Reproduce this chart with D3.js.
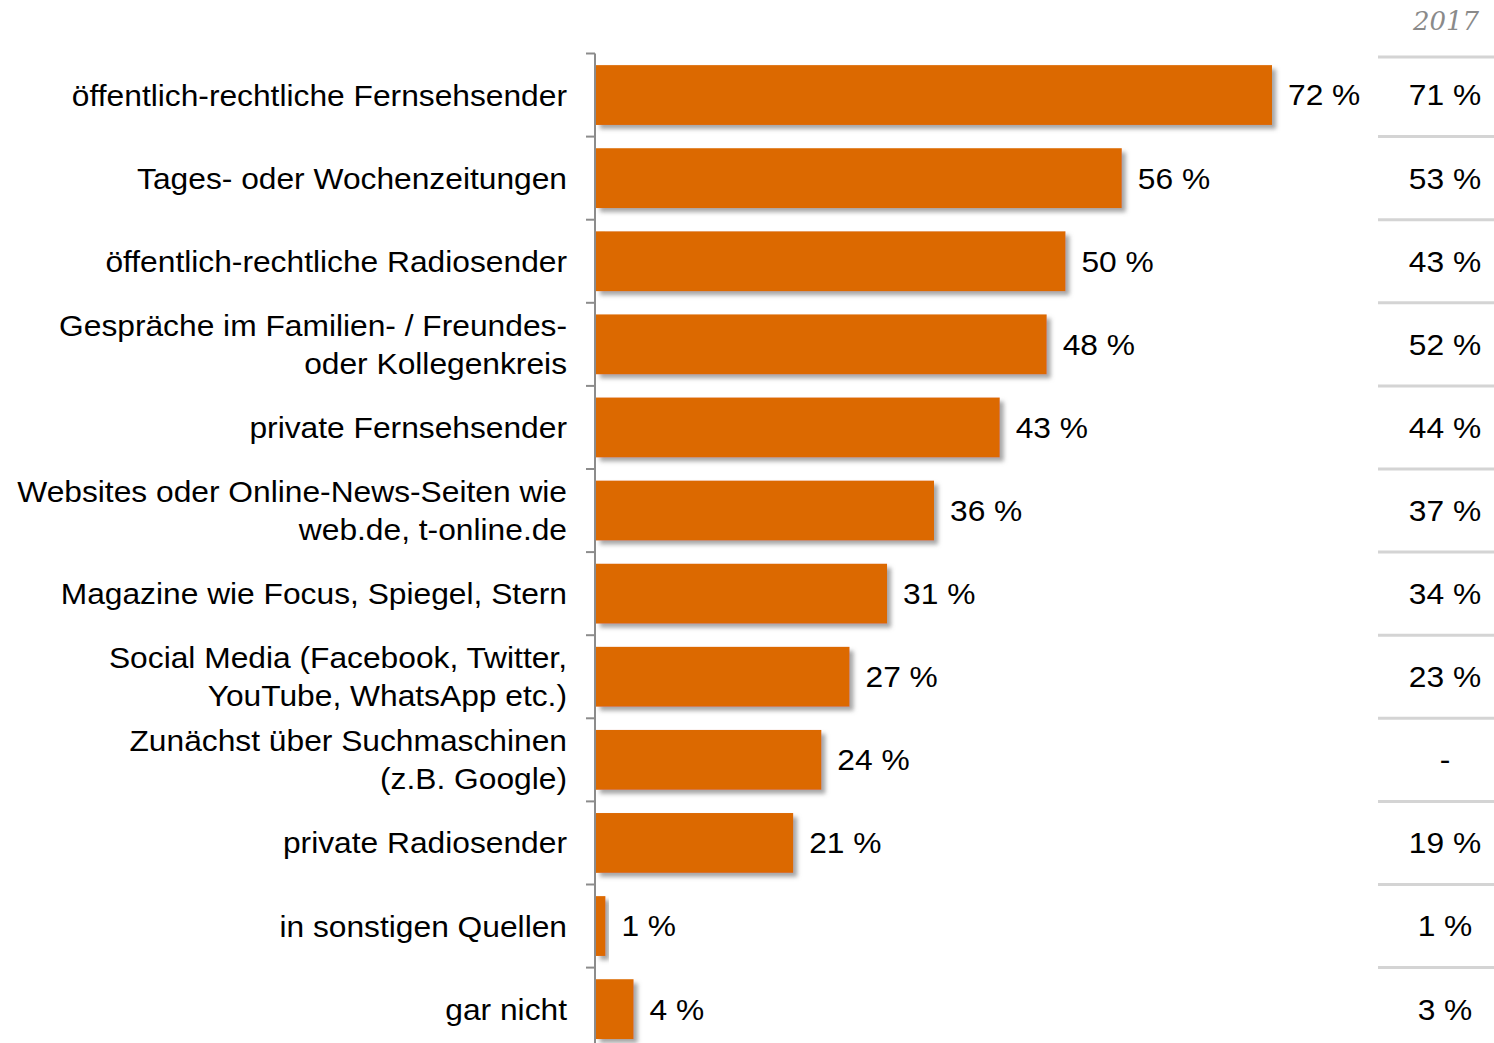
<!DOCTYPE html>
<html>
<head>
<meta charset="utf-8">
<script src="https://cdn.jsdelivr.net/npm/d3@7"></script>
<style>
  body { margin: 0; background: #fff; }
  svg { display: block; font-family: "Liberation Sans", Arial, sans-serif; }
</style>
</head>
<body>
<script>
(function (d3) {
    'use strict';

    var categories = [
        ["öffentlich-rechtliche Fernsehsender"],
        ["Tages- oder Wochenzeitungen"],
        ["öffentlich-rechtliche Radiosender"],
        ["Gespräche im Familien- / Freundes-", "oder Kollegenkreis"],
        ["private Fernsehsender"],
        ["Websites oder Online-News-Seiten wie", "web.de, t-online.de"],
        ["Magazine wie Focus, Spiegel, Stern"],
        ["Social Media (Facebook, Twitter,", "YouTube, WhatsApp etc.)"],
        ["Zunächst über Suchmaschinen", "(z.B. Google)"],
        ["private Radiosender"],
        ["in sonstigen Quellen"],
        ["gar nicht"]
    ];
    var values = [72, 56, 50, 48, 43, 36, 31, 27, 24, 21, 1, 4];
    var values2017 = ["71 %", "53 %", "43 %", "52 %", "44 %", "37 %", "34 %", "23 %", "-", "19 %", "1 %", "3 %"];
    var compareYear = "2017";

    var width = 1494, height = 1043;
    var x0 = 596, bandStep = 83.1, top = 53.5;
    var sx = 1.095; // text in the original is a bit wider than Liberation Sans

    var svg = d3.select("body").append("svg")
        .attr("width", width)
        .attr("height", height);

    var defs = svg.append("defs");
    var f = defs.append("filter").attr("id", "shadow")
        .attr("x", "-20%").attr("y", "-20%").attr("width", "150%").attr("height", "150%");
    f.append("feDropShadow")
        .attr("dx", 4).attr("dy", 4).attr("stdDeviation", 2)
        .attr("flood-color", "#808080").attr("flood-opacity", 0.7);

    var idx = d3.range(values.length);
    var y = d3.scaleBand()
        .domain(idx)
        .range([top, top + bandStep * values.length])
        .paddingInner(0.28)
        .paddingOuter(0.14);

    var x = d3.scaleLinear()
        .domain([0, 72])
        .range([x0, 1272]);

    function place(px, py) {
        return "translate(" + px + "," + py + ") scale(" + sx + ",1)";
    }

    // axis line with ticks between bands
    var axis = svg.append("g").attr("stroke", "#8c8c8c").attr("stroke-width", 2);
    axis.append("line")
        .attr("x1", 595).attr("x2", 595)
        .attr("y1", top).attr("y2", height);
    axis.selectAll("line.tick")
        .data(idx)
        .enter().append("line")
        .attr("class", "tick")
        .attr("x1", 586).attr("x2", 595)
        .attr("y1", function (d) { return top + d * bandStep; })
        .attr("y2", function (d) { return top + d * bandStep; });

    // bars
    svg.append("g")
        .selectAll("rect")
        .data(idx)
        .enter().append("rect")
        .attr("x", x0)
        .attr("y", function (d) { return y(d); })
        .attr("width", function (d) { return x(values[d]) - x0; })
        .attr("height", y.bandwidth())
        .attr("fill", "#dc6900")
        .attr("filter", "url(#shadow)");

    // value labels
    svg.append("g")
        .attr("font-size", 29)
        .attr("fill", "#000")
        .selectAll("text")
        .data(idx)
        .enter().append("text")
        .attr("transform", function (d) { return place(x(values[d]) + 16, y(d) + y.bandwidth() / 2); })
        .attr("dy", "0.36em")
        .text(function (d) { return values[d] + " %"; });

    // category labels
    var cat = svg.append("g")
        .attr("font-size", 29)
        .attr("text-anchor", "end")
        .attr("fill", "#000")
        .selectAll("text")
        .data(idx)
        .enter().append("text")
        .attr("transform", function (d) { return place(567, y(d) + y.bandwidth() / 2); });
    cat.selectAll("tspan")
        .data(function (d) {
            var lines = categories[d];
            return lines.map(function (t, i) { return { t: t, off: (i - (lines.length - 1) / 2) * 38 }; });
        })
        .enter().append("tspan")
        .attr("x", 0)
        .attr("dy", function (l, i) { return i === 0 ? (l.off + 10.5) : 38; })
        .text(function (l) { return l.t; });

    // comparison column
    svg.append("text")
        .attr("x", 1446)
        .attr("y", 30)
        .attr("text-anchor", "middle")
        .attr("font-family", "'DejaVu Serif', 'Liberation Serif', serif")
        .attr("font-style", "italic")
        .attr("font-size", 26)
        .attr("fill", "#8a8a8a")
        .text(compareYear);

    svg.append("g")
        .attr("stroke", "#d4d4d4")
        .attr("stroke-width", 3)
        .selectAll("line")
        .data(idx)
        .enter().append("line")
        .attr("x1", 1378).attr("x2", 1494)
        .attr("y1", function (d) { return d === 0 ? 57 : top + d * bandStep; })
        .attr("y2", function (d) { return d === 0 ? 57 : top + d * bandStep; });

    svg.append("g")
        .attr("font-size", 29)
        .attr("text-anchor", "middle")
        .attr("fill", "#000")
        .selectAll("text")
        .data(idx)
        .enter().append("text")
        .attr("transform", function (d) { return place(1445, y(d) + y.bandwidth() / 2); })
        .attr("dy", "0.36em")
        .text(function (d) { return values2017[d]; });

})(d3);
</script>
</body>
</html>
